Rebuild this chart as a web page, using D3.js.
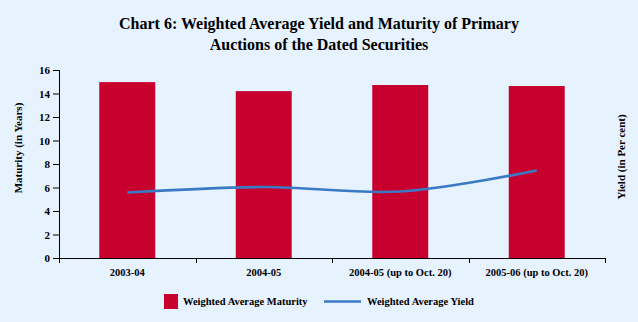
<!DOCTYPE html>
<html>
<head>
<meta charset="utf-8">
<script src="https://cdn.jsdelivr.net/npm/d3@7"></script>
<style>
  html, body { margin: 0; padding: 0; background: #e6f2fe; }
  svg { display: block; }
  text { font-family: "Liberation Serif", "Times New Roman", serif; font-weight: bold; fill: #000; }
</style>
</head>
<body>
<script>
const categories = ['2003-04', '2004-05', '2004-05 (up to Oct. 20)', '2005-06 (up to Oct. 20)'];
const maturity = [14.97, 14.2, 14.72, 14.64];   // years
const yieldPct = [5.57, 6.04, 5.66, 7.44];      // per cent
const yTicks = [0, 2, 4, 6, 8, 10, 12, 14, 16];

const width = 638, height = 322;
const margin = { top: 70, right: 33, bottom: 64, left: 59 };
const innerW = width - margin.left - margin.right;
const innerH = height - margin.top - margin.bottom;

const svg = d3.select('body').append('svg')
  .attr('width', width)
  .attr('height', height);

svg.append('rect')
  .attr('width', width)
  .attr('height', height)
  .attr('fill', '#e6f2fe');

// title
const title = svg.append('text')
  .attr('text-anchor', 'middle')
  .style('font-size', '16px');
title.append('tspan').attr('x', width / 2).attr('y', 29)
  .text('Chart 6: Weighted Average Yield and Maturity of Primary');
title.append('tspan').attr('x', width / 2).attr('y', 50)
  .text('Auctions of the Dated Securities');

const g = svg.append('g')
  .attr('transform', `translate(${margin.left},${margin.top})`);

const x = d3.scaleBand()
  .domain(categories)
  .range([0, innerW])
  .paddingInner(0.59)
  .paddingOuter(0.295);

const y = d3.scaleLinear()
  .domain([0, 16])
  .range([innerH, 0]);

// bars
g.selectAll('rect.bar')
  .data(categories)
  .enter().append('rect')
  .attr('class', 'bar')
  .attr('x', d => x(d))
  .attr('y', (d, i) => y(maturity[i]))
  .attr('width', x.bandwidth())
  .attr('height', (d, i) => innerH - y(maturity[i]))
  .attr('fill', '#c8002d');

// yield line, plotted on the same scale
const line = d3.line()
  .x((d, i) => x(categories[i]) + x.bandwidth() / 2)
  .y(d => y(d))
  .curve(d3.curveCatmullRom.alpha(0.5));

g.append('path')
  .datum(yieldPct)
  .attr('d', line)
  .attr('fill', 'none')
  .attr('stroke', '#3a7ac4')
  .attr('stroke-width', 2.6);

// left axis
const yAxis = g.append('g')
  .call(d3.axisLeft(y).tickValues(yTicks).tickSize(6).tickPadding(3));
yAxis.select('.domain').attr('stroke', '#000').attr('d', `M-6,0.5H0.5V${innerH}`);
yAxis.selectAll('line').attr('stroke', '#000');
yAxis.selectAll('text').style('font-size', '11px');
yAxis.select('.domain').attr('d', `M0.5,0V${innerH}`);

// bottom axis with ticks on category boundaries
const xAxis = g.append('g')
  .attr('transform', `translate(0,${innerH})`);
xAxis.append('line')
  .attr('x1', 0).attr('x2', innerW)
  .attr('y1', 0.5).attr('y2', 0.5)
  .attr('stroke', '#000');
const step = x.step();
xAxis.selectAll('line.tick')
  .data(d3.range(categories.length + 1))
  .enter().append('line')
  .attr('class', 'tick')
  .attr('x1', d => Math.round(d * step) + 0.5)
  .attr('x2', d => Math.round(d * step) + 0.5)
  .attr('y1', 0).attr('y2', 5)
  .attr('stroke', '#000');
xAxis.selectAll('text.cat')
  .data(categories)
  .enter().append('text')
  .attr('class', 'cat')
  .attr('x', d => x(d) + x.bandwidth() / 2)
  .attr('y', 18)
  .attr('text-anchor', 'middle')
  .style('font-size', '10.5px')
  .text(d => d);

// axis titles
svg.append('text')
  .attr('transform', `translate(22,148) rotate(-90)`)
  .attr('text-anchor', 'middle')
  .style('font-size', '11px')
  .text('Maturity (in Years)');

svg.append('text')
  .attr('transform', `translate(625,157) rotate(-90)`)
  .attr('text-anchor', 'middle')
  .style('font-size', '11px')
  .text('Yield (in Per cent)');

// legend
const legend = svg.append('g');
legend.append('rect')
  .attr('x', 164).attr('y', 294)
  .attr('width', 14).attr('height', 15)
  .attr('fill', '#c8002d');
legend.append('text')
  .attr('x', 183).attr('y', 305)
  .style('font-size', '10.5px')
  .text('Weighted Average Maturity');
legend.append('line')
  .attr('x1', 324).attr('x2', 361)
  .attr('y1', 301.5).attr('y2', 301.5)
  .attr('stroke', '#3a7ac4')
  .attr('stroke-width', 2.6);
legend.append('text')
  .attr('x', 367).attr('y', 305)
  .style('font-size', '10.5px')
  .text('Weighted Average Yield');
</script>
</body>
</html>
